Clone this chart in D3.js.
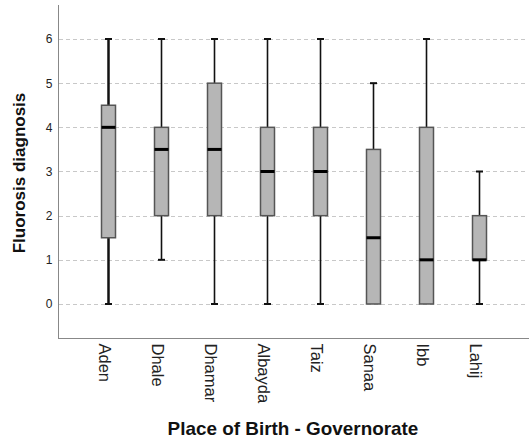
<!DOCTYPE html>
<html>
<head>
<meta charset="utf-8">
<script src="https://cdn.jsdelivr.net/npm/d3@7"></script>
<style>
  html, body { margin: 0; padding: 0; background: #fff; }
  svg { display: block; font-family: "Liberation Sans", Arial, sans-serif; }
</style>
</head>
<body>
<svg id="chart" width="529" height="441"></svg>
<script>
// Governorates and box-plot summary statistics of the fluorosis score
const governorates = ["Aden", "Dhale", "Dhamar", "Albayda", "Taiz", "Sanaa", "Ibb", "Lahij"];
const whiskerLow  = [0,   1,   0,   0, 0, 0,   0, 0];
const quartile1   = [1.5, 2,   2,   2, 2, 0,   0, 1];
const medians     = [4,   3.5, 3.5, 3, 3, 1.5, 1, 1];
const quartile3   = [4.5, 4,   5,   4, 4, 3.5, 4, 2];
const whiskerHigh = [6,   6,   6,   6, 6, 5,   6, 3];
const yTicks = [0, 1, 2, 3, 4, 5, 6];

const boxes = governorates.map((name, i) => ({
  name, lo: whiskerLow[i], q1: quartile1[i], med: medians[i], q3: quartile3[i], hi: whiskerHigh[i]
}));

const svg = d3.select("#chart");
const plot = { left: 58, right: 529, top: 5, bottom: 338 };

const x = d3.scalePoint().domain(governorates).range([plot.left, plot.right]).padding(0.94);
const y = d3.scaleLinear().domain([-0.77, 6.77]).range([plot.bottom, plot.top]);

// Dashed horizontal grid lines
svg.append("g").selectAll("line").data(yTicks).join("line")
  .attr("x1", plot.left + 1).attr("x2", 527)
  .attr("y1", d => Math.round(y(d)) + 0.5).attr("y2", d => Math.round(y(d)) + 0.5)
  .attr("stroke", "#c8c8c8").attr("stroke-width", 1).attr("stroke-dasharray", "4,3");

// Y axis with labels only
const yAxis = svg.append("g").attr("transform", `translate(${plot.left + 0.5},0)`)
  .call(d3.axisLeft(y).tickValues(yTicks).tickSize(0).tickPadding(6).tickFormat(d3.format("d")));
yAxis.select(".domain").attr("stroke", "#888").attr("d", `M0,${plot.top}V${plot.bottom}`);
yAxis.selectAll("text").attr("font-size", 12).attr("fill", "#222")
  .attr("font-family", "Liberation Sans, Arial, sans-serif");

// X axis with rotated labels
const xAxis = svg.append("g").attr("transform", `translate(0,${plot.bottom + 0.5})`)
  .call(d3.axisBottom(x).tickSize(0).tickPadding(0));
xAxis.select(".domain").attr("stroke", "#888").attr("d", `M${plot.left},0H${plot.right}`);
xAxis.selectAll("text")
  .attr("font-size", 16.5).attr("fill", "#222")
  .attr("font-family", "Liberation Sans, Arial, sans-serif")
  .attr("text-anchor", "start")
  .attr("dy", "0.56em")
  .attr("transform", "translate(0,5) rotate(90)");

// Box plots
const boxW = 14, capW = 7;
const g = svg.append("g").selectAll("g").data(boxes).join("g")
  .attr("transform", d => `translate(${Math.round(x(d.name)) + 0.5},0)`);

const ww = d => d.name === "Aden" ? 2.5 : 1.6;

// upper whisker
g.append("line").attr("x1", 0).attr("x2", 0)
  .attr("y1", d => y(d.q3)).attr("y2", d => y(d.hi))
  .attr("stroke", "#111").attr("stroke-width", ww);
g.append("line").attr("x1", -capW / 2).attr("x2", capW / 2)
  .attr("y1", d => y(d.hi)).attr("y2", d => y(d.hi))
  .attr("stroke", "#111").attr("stroke-width", 2);
// lower whisker
g.filter(d => d.lo < d.q1).append("line").attr("x1", 0).attr("x2", 0)
  .attr("y1", d => y(d.q1)).attr("y2", d => y(d.lo))
  .attr("stroke", "#111").attr("stroke-width", ww);
g.filter(d => d.lo < d.q1).append("line").attr("x1", -capW / 2).attr("x2", capW / 2)
  .attr("y1", d => y(d.lo)).attr("y2", d => y(d.lo))
  .attr("stroke", "#111").attr("stroke-width", 2);
// box
g.append("rect").attr("x", -boxW / 2).attr("width", boxW)
  .attr("y", d => y(d.q3)).attr("height", d => y(d.q1) - y(d.q3))
  .attr("fill", "#b6b6b6").attr("stroke", "#555").attr("stroke-width", 1.5);
// median
g.append("line").attr("x1", -boxW / 2).attr("x2", boxW / 2)
  .attr("y1", d => y(d.med)).attr("y2", d => y(d.med))
  .attr("stroke", "#000").attr("stroke-width", 3);

// Axis titles
svg.append("text")
  .attr("transform", `translate(25,173) rotate(-90)`)
  .attr("text-anchor", "middle")
  .attr("font-size", 17).attr("font-weight", "bold").attr("fill", "#111")
  .text("Fluorosis diagnosis");

svg.append("text")
  .attr("transform", `translate(${(plot.left + plot.right) / 2 - 0.5},435) scale(1.05,1)`)
  .attr("text-anchor", "middle")
  .attr("font-size", 18).attr("font-weight", "bold").attr("fill", "#111")
  .text("Place of Birth - Governorate");
</script>
</body>
</html>
